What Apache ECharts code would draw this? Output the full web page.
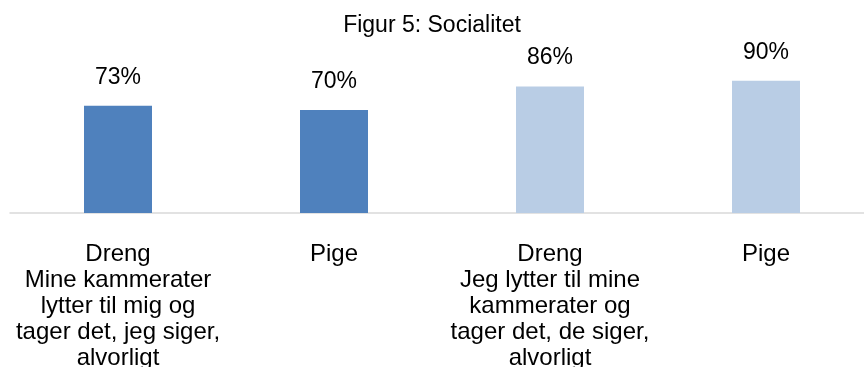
<!DOCTYPE html>
<html>
<head>
<meta charset="utf-8">
<script src="https://cdn.jsdelivr.net/npm/echarts@6/dist/echarts.min.js"></script>
<style>
  html, body { margin: 0; padding: 0; background: #fff; }
  #chart { width: 864px; height: 367px; }
</style>
</head>
<body>
<div id="chart"></div>
<script>
// Category labels (each line of a label is one entry)
const categories = [
  ['Dreng', 'Mine kammerater', 'lytter til mig og', 'tager det, jeg siger,', 'alvorligt'],
  ['Pige'],
  ['Dreng', 'Jeg lytter til mine', 'kammerater og', 'tager det, de siger,', 'alvorligt'],
  ['Pige']
];
// Share answering yes, in percent
const values = [73, 70, 86, 90];
// Which statement each bar belongs to (0 = first, 1 = second)
const groups = [0, 0, 1, 1];

const groupColors = ['#4F81BD', '#B9CDE5'];
const FONT = '"Liberation Sans", Arial, sans-serif';

const chart = echarts.init(document.getElementById('chart'), null, { renderer: 'canvas' });

chart.setOption({
  animation: false,
  backgroundColor: '#ffffff',
  title: {
    text: 'Figur 5: Socialitet',
    left: 'center',
    top: 9,
    textStyle: { fontFamily: FONT, fontSize: 23, fontWeight: 'normal', color: '#000' }
  },
  grid: {
    left: 10, right: -10, top: 66, bottom: 154,
    containLabel: false,
    outerBoundsMode: 'none'
  },
  xAxis: {
    type: 'category',
    data: categories.map(lines => lines.join('\n')),
    axisLine: { show: true, lineStyle: { color: '#D9D9D9', width: 1.5 } },
    axisTick: { show: false },
    axisLabel: {
      interval: 0,
      margin: 28,
      fontFamily: FONT,
      fontSize: 24,
      lineHeight: 26,
      color: '#000',
      align: 'center'
    }
  },
  yAxis: {
    type: 'value',
    min: 0,
    max: 100,
    show: false,
    splitLine: { show: false }
  },
  series: [{
    type: 'bar',
    barWidth: 68,
    data: values.map((v, i) => ({ value: v, itemStyle: { color: groupColors[groups[i]] } })),
    label: {
      show: true,
      position: 'top',
      distance: 17,
      formatter: '{c}%',
      fontFamily: FONT,
      fontSize: 23,
      color: '#000'
    }
  }]
});
</script>
</body>
</html>
